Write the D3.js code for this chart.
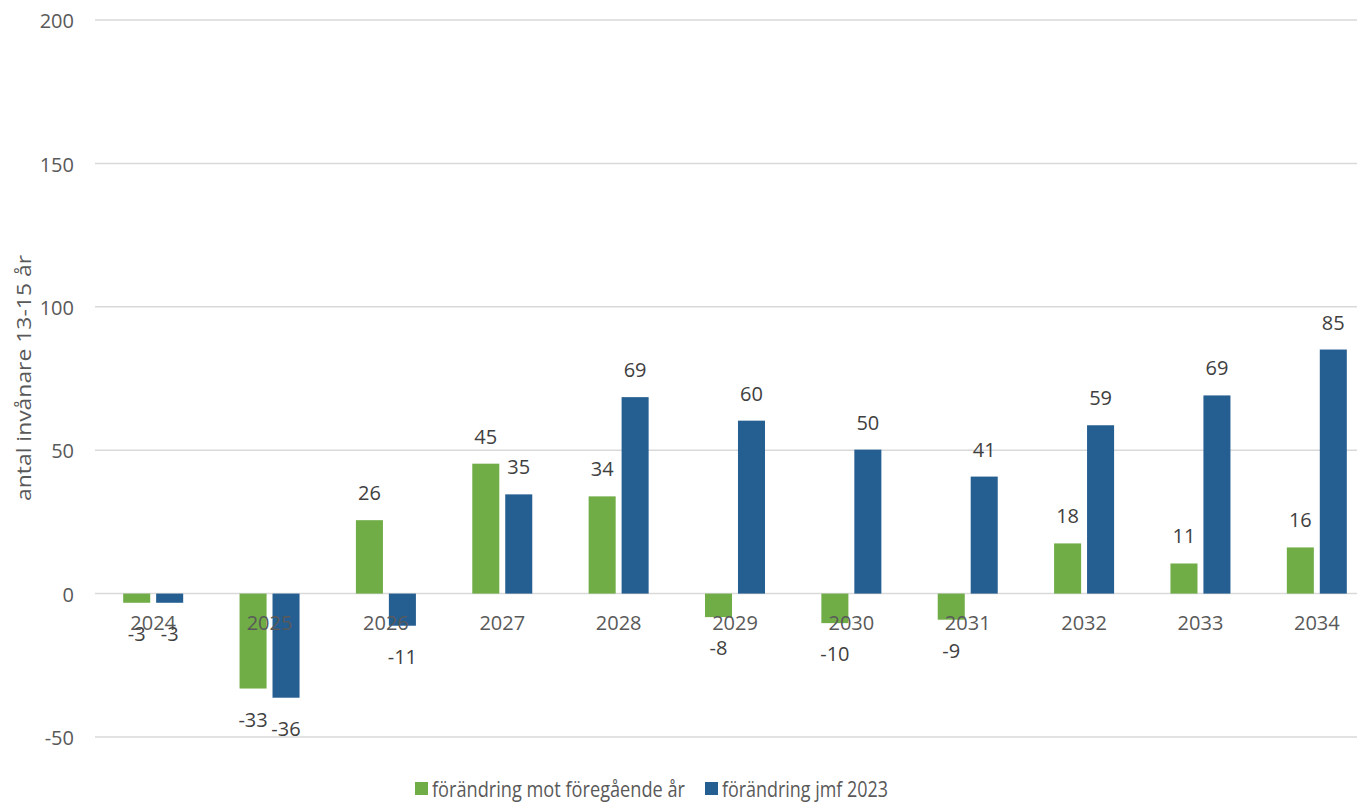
<!DOCTYPE html>
<html><head><meta charset="utf-8">
<script src="https://cdn.jsdelivr.net/npm/d3@7"></script>
<style>body{margin:0;background:#fff;} svg{display:block;font-family:"Open Sans",sans-serif;}</style>
</head><body>
<svg id="c" width="1357" height="804"></svg>
<script>
const categories = ["2024","2025","2026","2027","2028","2029","2030","2031","2032","2033","2034"];
const seriesNames = ["förändring mot föregående år","förändring jmf 2023"];
const seriesPrev = [-3.2, -33.1, 25.6, 45.3, 33.9, -8.2, -10.3, -9.1, 17.5, 10.5, 16.1];
const seriesBase = [-3.2, -36.3, -11.2, 34.6, 68.5, 60.3, 50.2, 40.8, 58.7, 69.1, 85.1];
const yTicks = [-50, 0, 50, 100, 150, 200];
const colors = ["#70AD47", "#255E91"];

const svg = d3.select("#c");
const x = d3.scaleBand().domain(categories).range([95, 1375]);
const y = d3.scaleLinear().domain([-50, 200]).range([737, 20]);
const inner = d3.scaleBand().domain([0,1]).range([0, 60]).paddingInner(0.18);
const barOffset = (x.bandwidth() - 60) / 2;
const fmtTick = d => String(d);

// gridlines
svg.append("g").selectAll("line").data(yTicks).join("line")
  .attr("x1", 95).attr("x2", 1357)
  .attr("y1", d => y(d)).attr("y2", d => y(d))
  .attr("stroke", "#d9d9d9").attr("stroke-width", 1.5);

// y axis labels
const yAxis = d3.axisLeft(y).tickValues(yTicks).tickSize(0).tickPadding(0).tickFormat(fmtTick);
const ga = svg.append("g").attr("transform", "translate(74,0)").call(yAxis);
ga.select(".domain").remove();
ga.selectAll("text").attr("font-size", 20).attr("fill", "#595959")
  .attr("font-family", "Open Sans").attr("dy", "0.38em");

// bars
const series = [seriesPrev, seriesBase];
series.forEach((vals, si) => {
  svg.append("g").selectAll("rect").data(vals).join("rect")
    .attr("x", (d, i) => x(categories[i]) + barOffset + inner(si))
    .attr("width", inner.bandwidth())
    .attr("y", d => y(Math.max(0, d)))
    .attr("height", d => Math.abs(y(d) - y(0)))
    .attr("fill", colors[si]);
});

// category labels
const xAxis = d3.axisBottom(x).tickSize(0).tickPadding(0);
const gx = svg.append("g").attr("transform", `translate(0,${y(0) + 22})`).call(xAxis);
gx.select(".domain").remove();
gx.selectAll("text").attr("font-size", 20).attr("fill", "#595959")
  .attr("font-family", "Open Sans").attr("dy", "0.71em");

// data labels
const fmt = d => String(Math.round(d));
series.forEach((vals, si) => {
  svg.append("g").selectAll("text").data(vals).join("text")
    .attr("x", (d, i) => x(categories[i]) + barOffset + inner(si) + inner.bandwidth() / 2)
    .attr("y", d => d >= 0 ? y(d) - 20 : y(d) + 38)
    .attr("text-anchor", "middle")
    .attr("font-size", 20).attr("fill", "#404040")
    .text(d => fmt(d));
});

// y axis title
svg.append("text")
  .attr("transform", "translate(31,378) rotate(-90)")
  .attr("text-anchor", "middle").attr("font-size", 20).attr("fill", "#595959")
  .attr("textLength", 246).attr("lengthAdjust", "spacingAndGlyphs")
  .text("antal invånare 13-15 år");

// legend
const legend = [{x: 415, tx: 432, w: 253}, {x: 705, tx: 722, w: 166}];
legend.forEach((l, i) => {
  svg.append("rect").attr("x", l.x).attr("y", 782).attr("width", 13).attr("height", 13).attr("fill", colors[i]);
  svg.append("text").attr("x", l.tx).attr("y", 797).attr("font-size", 21).attr("fill", "#595959")
    .attr("textLength", l.w).attr("lengthAdjust", "spacingAndGlyphs")
    .text(seriesNames[i]);
});
</script>
</body></html>
